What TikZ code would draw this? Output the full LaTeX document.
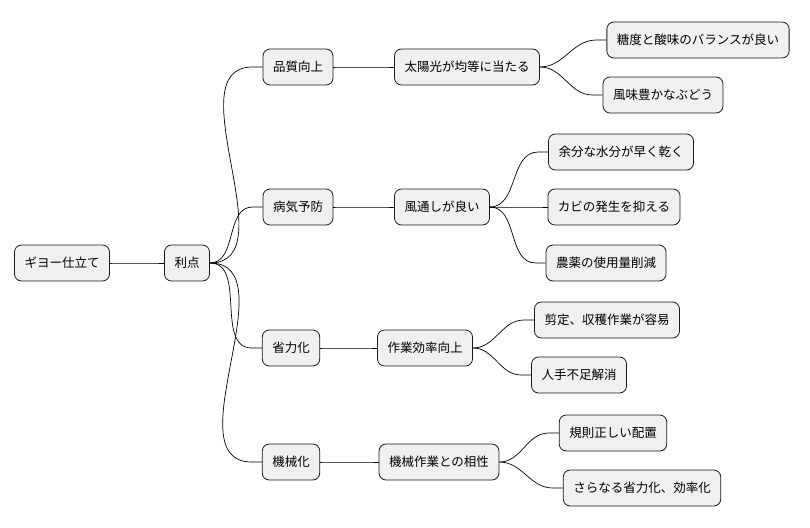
\documentclass[tikz,border=0pt]{standalone}
\usepackage{fontspec}
\setmainfont{Noto Sans CJK JP}
\usetikzlibrary{calc}
\begin{document}
\begin{tikzpicture}[x=1pt,y=-1pt,
  box/.style={draw=black!90,fill=black!6,rounded corners=7pt,minimum height=36pt,inner xsep=10pt,font=\fontsize{12.5}{14}\selectfont,line width=0.8pt},
  link/.style={draw=black,line width=0.7pt}]
\useasboundingbox (0,0) rectangle (810,527);
\node[box] (r) at (62,263) {ギヨー仕立て};
\node[box] (a) at (187,263) {利点};
\node[box] (b1) at (298,67) {品質向上};
\node[box] (c1) at (467,67) {太陽光が均等に当たる};
\node[box] (d1) at (698,40) {糖度と酸味のバランスが良い};
\node[box] (d2) at (663,95) {風味豊かなぶどう};
\node[box] (b2) at (298,207) {病気予防};
\node[box] (c2) at (442,207) {風通しが良い};
\node[box] (d3) at (621,152) {余分な水分が早く乾く};
\node[box] (d4) at (614,207) {カビの発生を抑える};
\node[box] (d5) at (606,263) {農薬の使用量削減};
\node[box] (b3) at (291,348) {省力化};
\node[box] (c3) at (425,348) {作業効率向上};
\node[box] (d6) at (607,320) {剪定、収穫作業が容易};
\node[box] (d7) at (579,375) {人手不足解消};
\node[box] (b4) at (291,462) {機械化};
\node[box] (c4) at (439,462) {機械作業との相性};
\node[box] (d8) at (613,433) {規則正しい配置};
\node[box] (d9) at (642,488) {さらなる省力化、効率化};
\foreach \p/\c in {r/a,a/b1,a/b2,a/b3,a/b4,b1/c1,b2/c2,b3/c3,b4/c4,c1/d1,c1/d2,c2/d3,c2/d4,c2/d5,c3/d6,c3/d7,c4/d8,c4/d9}
  \draw[link] (\p.east) to[out=0,in=180] ($(\c.west)-(10,0)$) -- (\c.west);
\end{tikzpicture}
\end{document}
